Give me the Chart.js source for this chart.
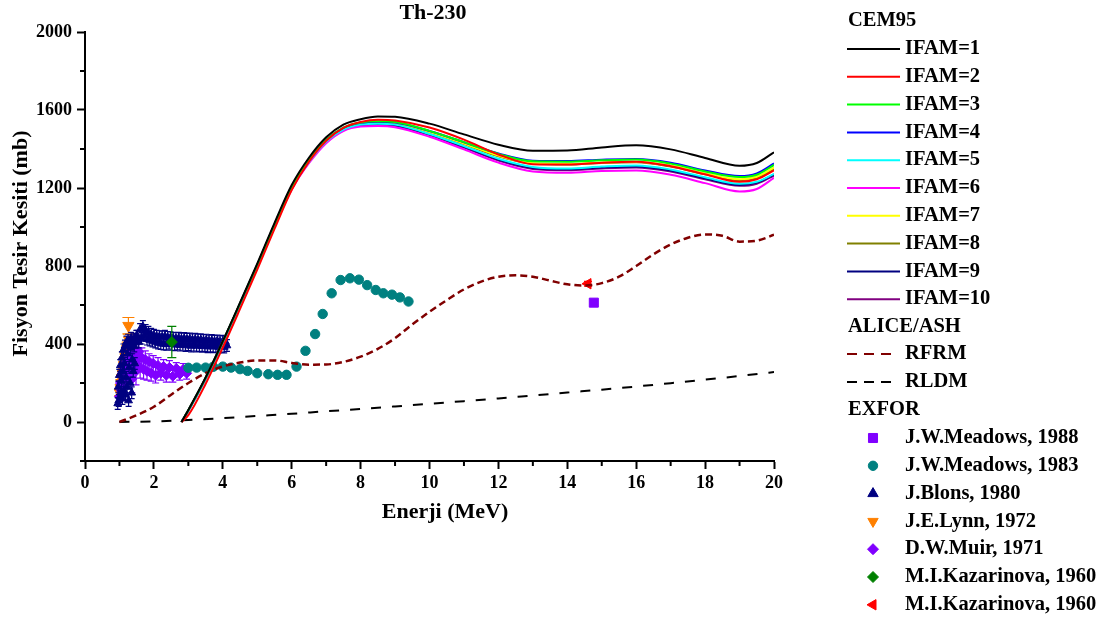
<!DOCTYPE html>
<html>
<head>
<meta charset="utf-8">
<title>Th-230</title>
<script src="https://cdn.jsdelivr.net/npm/chart.js@4.4.1/dist/chart.umd.min.js"></script>
<style>
  html, body { margin: 0; padding: 0; background: #fff; }
  #wrap { width: 1109px; height: 621px; }
</style>
</head>
<body>
<div id="wrap"><canvas id="chart" width="1109" height="621"></canvas></div>
<script>
// Th-230 fission cross section: CEM95 (IFAM 1-10), ALICE/ASH, EXFOR data

const FONT = '"Liberation Serif", "Times New Roman", serif';

// ---------- data ----------

const cemEnergy = [2.8, 3, 3.5, 4, 4.5, 5, 5.5, 6, 6.5, 7, 7.5, 8, 8.5,
  9, 10, 11, 12, 13, 14, 15, 16, 17, 18, 19, 19.5, 20];

const ifam1 = [0, 62, 228, 415, 612, 812, 1020, 1215, 1355, 1460, 1525, 1553, 1567,
  1565, 1530, 1475, 1422, 1391, 1392, 1408, 1419, 1398, 1354, 1314, 1328, 1383];
const ifam2 = [0, 35, 195, 382, 580, 782, 990, 1190, 1335, 1442, 1508, 1538, 1550,
  1546, 1510, 1448, 1372, 1322, 1320, 1330, 1335, 1312, 1270, 1232, 1245, 1290];
const ifam3 = [0, 60, 225, 412, 608, 806, 1012, 1205, 1343, 1447, 1510, 1536, 1542,
  1538, 1493, 1435, 1375, 1337, 1335, 1342, 1346, 1325, 1285, 1256, 1268, 1318];
const ifam4 = [0, 60, 225, 412, 608, 806, 1012, 1205, 1342, 1446, 1508, 1534, 1540,
  1536, 1492, 1435, 1377, 1340, 1338, 1345, 1349, 1330, 1290, 1261, 1275, 1326];
const ifam5 = [0, 58, 222, 408, 603, 800, 1005, 1198, 1334, 1438, 1500, 1525, 1530,
  1525, 1477, 1415, 1350, 1308, 1300, 1310, 1316, 1295, 1255, 1222, 1232, 1272];
const ifam6 = [0, 57, 220, 405, 600, 796, 1000, 1192, 1327, 1430, 1492, 1515, 1518,
  1512, 1463, 1398, 1330, 1285, 1278, 1287, 1290, 1268, 1225, 1182, 1195, 1252];
const ifam7 = [0, 60, 225, 411, 607, 805, 1010, 1203, 1340, 1444, 1506, 1532, 1538,
  1533, 1487, 1428, 1366, 1327, 1323, 1331, 1335, 1315, 1275, 1245, 1258, 1305];
const ifam8 = [0, 60, 225, 411, 606, 804, 1009, 1202, 1339, 1443, 1505, 1531, 1536,
  1531, 1485, 1425, 1362, 1324, 1320, 1328, 1332, 1310, 1270, 1240, 1252, 1296];
const ifam9 = [0, 59, 223, 409, 604, 801, 1006, 1199, 1335, 1438, 1500, 1525, 1528,
  1523, 1475, 1412, 1346, 1303, 1296, 1305, 1310, 1290, 1250, 1216, 1228, 1270];
const ifam10 = [0, 58, 222, 408, 602, 799, 1004, 1197, 1332, 1435, 1497, 1521, 1524,
  1519, 1471, 1407, 1341, 1298, 1291, 1300, 1305, 1284, 1245, 1211, 1222, 1264];

const ifamLabels = ["IFAM=1", "IFAM=2", "IFAM=3", "IFAM=4", "IFAM=5",
  "IFAM=6", "IFAM=7", "IFAM=8", "IFAM=9", "IFAM=10"];
const ifamSeries = [ifam1, ifam2, ifam3, ifam4, ifam5, ifam6, ifam7, ifam8, ifam9, ifam10];
const ifamColors = ["#000000", "#FF0000", "#00FF00", "#0000FF", "#00FFFF",
  "#FF00FF", "#FFFF00", "#808000", "#000080", "#800080"];

const rfrmEnergy = [1, 1.5, 2, 2.5, 3, 3.5, 4, 4.5, 5, 5.5, 6, 6.5, 7, 7.5, 8, 8.5, 9, 9.5,
  10, 10.5, 11, 11.5, 12, 12.5, 13, 13.5, 14, 14.5, 15, 15.5, 16, 16.5, 17, 17.5,
  18, 18.5, 19, 19.5, 20];
const rfrmValues = [0, 35, 78, 140, 200, 250, 285, 305, 316, 316, 303, 294, 295, 308, 335,
  375, 430, 500, 565, 625, 680, 720, 745, 752, 745, 725, 706, 700, 712, 745, 800, 860,
  910, 945, 962, 955, 925, 930, 960];

const rldmEnergy = [1, 2, 3, 4, 5, 6, 7, 8, 9, 10, 11, 12, 13, 14, 15, 16, 17, 18, 19, 20];
const rldmValues = [0, 3, 10, 20, 31, 42, 55, 67, 80, 93, 107, 121, 136, 151, 166, 182,
  199, 217, 236, 256];

const meadows88Energy = [14.77];
const meadows88Values = [612];

const meadows83Energy = [3.0, 3.24, 3.5, 3.72, 4.0, 4.24, 4.5, 4.72, 5.0, 5.32, 5.59, 5.85,
  6.14, 6.4, 6.68, 6.9, 7.16, 7.42, 7.69, 7.95, 8.19, 8.44, 8.66, 8.91, 9.14, 9.39];
const meadows83Values = [278, 279, 279, 283, 284, 279, 271, 262, 250, 245, 242, 242,
  284, 365, 451, 554, 660, 728, 737, 730, 702, 677, 660, 653, 639, 618];

const blonsEnergy = [0.95, 0.965, 0.98, 0.995, 1.01, 1.025, 1.04, 1.055, 1.07, 1.085,
  1.1, 1.115, 1.13, 1.145, 1.16, 1.175, 1.19, 1.205, 1.22, 1.235, 1.25, 1.265, 1.28,
  1.295, 1.31, 1.325, 1.34, 1.355, 1.37, 1.385, 1.4, 1.415, 1.43, 1.445, 1.46, 1.475, 1.49,
  1.52, 1.56, 1.6, 1.64, 1.68, 1.72, 1.76, 1.8, 1.84, 1.88, 1.92, 1.96, 2.0, 2.04, 2.08,
  2.12, 2.16, 2.2, 2.24, 2.28, 2.32, 2.36, 2.4, 2.44, 2.48, 2.52, 2.56, 2.6, 2.64, 2.68,
  2.72, 2.76, 2.8, 2.84, 2.88, 2.92, 2.96, 3.0, 3.04, 3.08, 3.12, 3.16, 3.2, 3.24, 3.28,
  3.32, 3.36, 3.4, 3.44, 3.48, 3.52, 3.56, 3.6, 3.64, 3.68, 3.72, 3.76, 3.8, 3.84, 3.88,
  3.92, 3.96, 4.0, 4.04, 4.08, 4.12];
const blonsValues = [95, 180, 110, 240, 130, 290, 150, 210, 330, 120,
  260, 370, 160, 300, 390, 140, 230, 410, 180, 350, 420, 110, 280,
  400, 200, 380, 430, 150, 320, 410, 260, 420, 390, 300, 425, 410, 440,
  440, 410, 475, 430, 490, 445, 470, 425, 460, 420, 450, 415, 445, 410, 440,
  405, 438, 402, 436, 400, 440, 398, 434, 404, 432, 398, 430, 396, 428, 400,
  430, 394, 426, 398, 428, 392, 424, 396, 426, 390, 422, 394, 424, 390, 420,
  392, 422, 388, 418, 392, 420, 386, 416, 390, 418, 386, 414, 388, 416, 384,
  412, 388, 414, 384, 410, 392];
const blonsError = 30;

const lynnEnergy = [1.02, 1.04, 1.06, 1.08, 1.1, 1.12, 1.14, 1.16, 1.18, 1.2, 1.22, 1.24,
  1.26, 1.28, 1.3, 1.33, 1.36, 1.4];
const lynnValues = [150, 175, 200, 225, 245, 265, 290, 310, 330, 345, 365, 385,
  494, 420, 395, 370, 350, 330];
const lynnErrors = [15, 15, 18, 18, 20, 20, 20, 22, 22, 22, 25, 25, 42, 30, 25, 25, 25, 25];

const muirEnergy = [1.0, 1.03, 1.06, 1.09, 1.12, 1.15, 1.18, 1.21, 1.24, 1.27, 1.3, 1.33,
  1.36, 1.4, 1.44, 1.48, 1.52, 1.56, 1.6, 1.65, 1.7, 1.75, 1.8, 1.86, 1.92, 1.98, 2.05,
  2.12, 2.2, 2.28, 2.36, 2.45, 2.55, 2.65, 2.75, 2.85, 2.95];
const muirValues = [130, 200, 160, 250, 190, 280, 230, 310, 250, 330, 270, 340, 220,
  300, 350, 260, 320, 360, 280, 330, 270, 320, 260, 310, 250, 300,
  240, 290, 250, 285, 240, 280, 235, 275, 245, 270, 250];
const muirErrors = [40, 45, 50, 50, 55, 50, 55, 55, 50, 60, 60, 65, 70,
  60, 65, 70, 60, 60, 55, 50, 50, 45, 45, 40, 40, 40,
  40, 40, 35, 35, 35, 35, 30, 30, 30, 30, 30];

const kazGreenEnergy = [2.52];
const kazGreenValues = [410];
const kazGreenErrors = [80];

const kazRedEnergy = [14.6];
const kazRedValues = [709];
const kazRedErrors = [12];

const xMajorTicks = [0, 2, 4, 6, 8, 10, 12, 14, 16, 18, 20];
const xMinorTicks = [1, 3, 5, 7, 9, 11, 13, 15, 17, 19];
const yMajorTicks = [0, 400, 800, 1200, 1600, 2000];
const yMinorTicks = [-200, 200, 600, 1000, 1400, 1800];

// ---------- helpers ----------

function toPoints(xs, ys) {
  return xs.map((x, i) => ({ x, y: ys[i] }));
}

// EXFOR marker definitions (legend order)
const exforSets = [
  { label: "J.W.Meadows, 1988", color: "#8000FF", style: "rect", radius: 6.4, rotation: 0 },
  { label: "J.W.Meadows, 1983", color: "#008080", style: "circle", radius: 4.7, rotation: 0 },
  { label: "J.Blons, 1980", color: "#000080", style: "triangle", radius: 6, rotation: 0 },
  { label: "J.E.Lynn, 1972", color: "#FF8000", style: "triangle", radius: 6, rotation: 180 },
  { label: "D.W.Muir, 1971", color: "#8000FF", style: "rectRot", radius: 5.5, rotation: 0 },
  { label: "M.I.Kazarinova, 1960", color: "#008000", style: "rectRot", radius: 5.5, rotation: 0 },
  { label: "M.I.Kazarinova, 1960", color: "#FF0000", style: "triangle", radius: 6, rotation: -90 },
];

function markerSet(idx, xs, ys, extra) {
  const m = exforSets[idx];
  return Object.assign({
    label: m.label,
    data: toPoints(xs, ys),
    showLine: false,
    pointStyle: m.style,
    pointRotation: m.rotation,
    pointRadius: m.radius,
    pointBackgroundColor: m.color,
    pointBorderColor: m.color,
    pointBorderWidth: 1,
    borderColor: m.color,
    backgroundColor: m.color,
  }, extra);
}

const datasets = [];

ifamSeries.forEach((vals, i) => {
  datasets.push({
    label: ifamLabels[i],
    data: toPoints(cemEnergy, vals),
    showLine: true,
    borderColor: ifamColors[i],
    borderWidth: 2,
    pointRadius: 0,
    cubicInterpolationMode: "monotone",
    order: 2 + i,
  });
});

datasets.push({
  label: "RFRM",
  data: toPoints(rfrmEnergy, rfrmValues),
  showLine: true,
  borderColor: "#800000",
  borderWidth: 2.5,
  borderDash: [7, 4],
  pointRadius: 0,
  cubicInterpolationMode: "monotone",
  order: 12,
});
datasets.push({
  label: "RLDM",
  data: toPoints(rldmEnergy, rldmValues),
  showLine: true,
  borderColor: "#000000",
  borderWidth: 2,
  borderDash: [10, 11],
  pointRadius: 0,
  cubicInterpolationMode: "monotone",
  order: 13,
});

// higher order = drawn earlier (underneath)
datasets.push(markerSet(6, kazRedEnergy, kazRedValues, { errors: kazRedErrors, capWidth: 8, order: 14 }));
datasets.push(markerSet(0, meadows88Energy, meadows88Values, { order: 15 }));
datasets.push(markerSet(5, kazGreenEnergy, kazGreenValues, { errors: kazGreenErrors, capWidth: 9, order: 16 }));
datasets.push(markerSet(1, meadows83Energy, meadows83Values, { order: 17 }));
datasets.push(markerSet(2, blonsEnergy, blonsValues, { errors: blonsError, capWidth: 6, pointRadius: 4.5, order: 18 }));
datasets.push(markerSet(4, muirEnergy, muirValues, { errors: muirErrors, capWidth: 7, pointRadius: 5, order: 19 }));
datasets.push(markerSet(3, lynnEnergy, lynnValues, { errors: lynnErrors, capWidth: 12, pointRadius: 6.5, order: 20 }));

// ---------- plugins ----------

const errorBarPlugin = {
  id: "errorBars",
  beforeDatasetDraw(chart, args) {
    const ds = chart.data.datasets[args.index];
    if (ds.errors === undefined) return;
    const { ctx, chartArea, scales } = chart;
    ctx.save();
    ctx.beginPath();
    ctx.rect(chartArea.left, chartArea.top, chartArea.right - chartArea.left, chartArea.bottom - chartArea.top);
    ctx.clip();
    ctx.strokeStyle = ds.borderColor;
    ctx.lineWidth = 1.2;
    const half = (ds.capWidth || 6) / 2;
    ds.data.forEach((p, i) => {
      const e = Array.isArray(ds.errors) ? ds.errors[i] : ds.errors;
      const px = scales.x.getPixelForValue(p.x);
      const top = scales.y.getPixelForValue(p.y + e);
      const bot = scales.y.getPixelForValue(p.y - e);
      ctx.beginPath();
      ctx.moveTo(px, top); ctx.lineTo(px, bot);
      ctx.moveTo(px - half, top); ctx.lineTo(px + half, top);
      ctx.moveTo(px - half, bot); ctx.lineTo(px + half, bot);
      ctx.stroke();
    });
    ctx.restore();
  },
};

function drawMarker(ctx, m, x, y) {
  ctx.fillStyle = m.color;
  ctx.strokeStyle = m.color;
  ctx.lineWidth = 1;
  Chart.helpers.drawPoint(ctx, { pointStyle: m.style, radius: m.radius, rotation: m.rotation, borderWidth: 1 }, x, y);
}

const decorPlugin = {
  id: "decor",
  afterDraw(chart) {
    const { ctx, chartArea, scales } = chart;
    ctx.save();

    // minor ticks
    ctx.strokeStyle = "#000";
    ctx.lineWidth = 2;
    ctx.beginPath();
    xMinorTicks.forEach((v) => {
      const px = scales.x.getPixelForValue(v);
      ctx.moveTo(px, chartArea.bottom);
      ctx.lineTo(px, chartArea.bottom + 5);
    });
    yMinorTicks.forEach((v) => {
      const py = scales.y.getPixelForValue(v);
      ctx.moveTo(chartArea.left, py);
      ctx.lineTo(chartArea.left - 5, py);
    });
    ctx.stroke();

    ctx.fillStyle = "#000";

    // title
    ctx.font = "bold 22px " + FONT;
    ctx.textAlign = "center";
    ctx.textBaseline = "alphabetic";
    ctx.fillText("Th-230", 433, 19);

    // axis titles
    ctx.fillText("Enerji (MeV)", 445, 518);
    ctx.save();
    ctx.translate(27, 243.5);
    ctx.rotate(-Math.PI / 2);
    ctx.fillText("Fisyon Tesir Kesiti (mb)", 0, 0);
    ctx.restore();

    // legend
    const lx0 = 847, lx1 = 900, tx = 905, mx = 873;
    ctx.font = "bold 20.5px " + FONT;
    ctx.textAlign = "left";
    ctx.textBaseline = "middle";

    ctx.fillText("CEM95", 848, 21);
    ifamLabels.forEach((lab, i) => {
      const y = 49 + i * 27.8;
      ctx.strokeStyle = ifamColors[i];
      ctx.lineWidth = 2;
      ctx.setLineDash([]);
      ctx.beginPath();
      ctx.moveTo(lx0, y); ctx.lineTo(lx1, y);
      ctx.stroke();
      ctx.fillStyle = "#000";
      ctx.fillText(lab, tx, y);
    });

    ctx.fillText("ALICE/ASH", 848, 327);
    [["RFRM", "#800000", 354], ["RLDM", "#000000", 382]].forEach(([lab, col, y]) => {
      ctx.strokeStyle = col;
      ctx.lineWidth = 2;
      ctx.setLineDash([10, 7]);
      ctx.beginPath();
      ctx.moveTo(lx0, y); ctx.lineTo(lx0 + 48, y);
      ctx.stroke();
      ctx.setLineDash([]);
      ctx.fillStyle = "#000";
      ctx.fillText(lab, tx, y);
    });

    ctx.fillText("EXFOR", 848, 410);
    exforSets.forEach((m, i) => {
      const y = 438 + i * 27.8;
      drawMarker(ctx, m, mx, y);
      ctx.fillStyle = "#000";
      ctx.fillText(m.label, tx, y);
    });

    ctx.restore();
  },
};

// ---------- chart ----------

const tickFont = { family: FONT, size: 18, weight: "bold" };

new Chart(document.getElementById("chart").getContext("2d"), {
  type: "scatter",
  data: { datasets },
  options: {
    responsive: false,
    animation: false,
    events: [],
    layout: { padding: { top: 32, right: 335, left: 0, bottom: 0 } },
    plugins: {
      legend: { display: false },
      title: { display: false },
      tooltip: { enabled: false },
    },
    scales: {
      x: {
        type: "linear",
        min: 0,
        max: 20,
        afterFit: (s) => { s.height = 160; },
        afterBuildTicks: (s) => { s.ticks = xMajorTicks.map((v) => ({ value: v })); },
        ticks: { font: tickFont, color: "#000", padding: 4, maxRotation: 0, callback: (v) => String(v) },
        grid: { drawOnChartArea: false, drawTicks: true, tickLength: 8, tickWidth: 2, tickColor: "#000" },
        border: { display: true, color: "#000", width: 2 },
      },
      y: {
        type: "linear",
        min: -200,
        max: 2000,
        afterFit: (s) => { s.width = 85; },
        afterBuildTicks: (s) => { s.ticks = yMajorTicks.map((v) => ({ value: v })); },
        ticks: { font: tickFont, color: "#000", padding: 5, callback: (v) => String(v) },
        grid: { drawOnChartArea: false, drawTicks: true, tickLength: 8, tickWidth: 2, tickColor: "#000" },
        border: { display: true, color: "#000", width: 2 },
      },
    },
  },
  plugins: [errorBarPlugin, decorPlugin],
});
</script>
</body>
</html>
